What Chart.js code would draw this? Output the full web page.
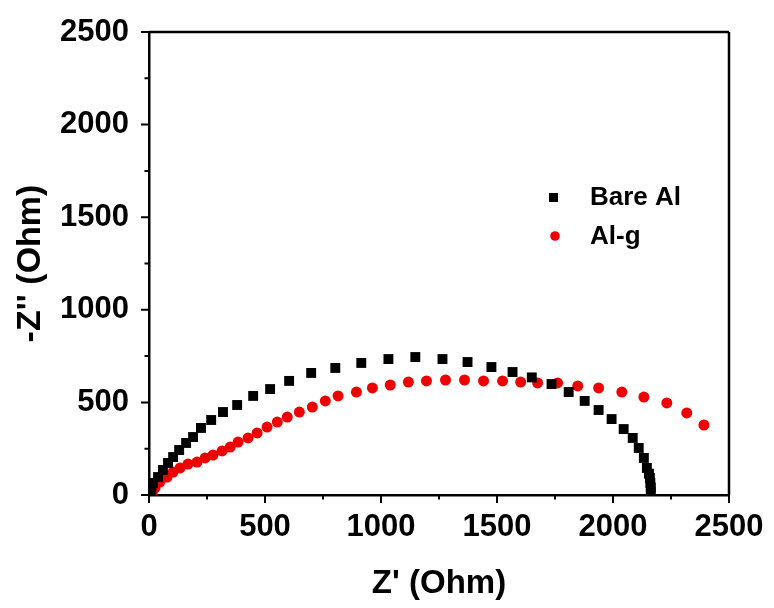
<!DOCTYPE html>
<html>
<head>
<meta charset="utf-8">
<script src="https://cdn.jsdelivr.net/npm/chart.js@4/dist/chart.umd.min.js"></script>
<style>
  html, body { margin: 0; padding: 0; background: #fff; }
  #wrap { width: 774px; height: 608px; }
</style>
</head>
<body>
<div id="wrap"><canvas id="c" width="774" height="608"></canvas></div>
<script>
// ---- data (Nyquist plot) ----
const seriesNames = ["Bare Al", "Al-g"];
const bareZre = [5, 10, 17, 39, 60, 82, 104, 130, 160, 190, 224, 268, 319, 380, 449, 522, 604, 699, 803, 915, 1032, 1148, 1265, 1373, 1476, 1567, 1650, 1735, 1809, 1878, 1938, 1994, 2046, 2085, 2111, 2133, 2146, 2155, 2159, 2161, 2163, 2163];
const bareZim = [10, 30, 65, 97, 135, 173, 205, 243, 281, 313, 362, 405, 448, 486, 535, 572, 616, 659, 686, 713, 734, 745, 734, 718, 691, 664, 635, 599, 556, 508, 459, 410, 356, 308, 254, 200, 146, 115, 92, 65, 40, 15];
const algZre = [4, 13, 26, 47, 78, 104, 134, 168, 207, 242, 276, 315, 350, 384, 427, 466, 509, 553, 596, 648, 704, 760, 815, 894, 963, 1040, 1118, 1196, 1278, 1360, 1442, 1524, 1602, 1675, 1761, 1848, 1938, 2038, 2133, 2232, 2318, 2392];
const algZim = [2, 11, 38, 70, 97, 124, 146, 167, 178, 200, 216, 238, 259, 286, 308, 335, 367, 394, 421, 448, 475, 508, 535, 556, 578, 594, 610, 616, 621, 621, 616, 616, 610, 605, 605, 589, 578, 556, 529, 497, 443, 378];
const xTicks = [0, 500, 1000, 1500, 2000, 2500];
const yTicks = [0, 500, 1000, 1500, 2000, 2500];
const xTitle = "Z' (Ohm)";
const yTitle = "-Z'' (Ohm)";

const FONT = "'Liberation Sans', Arial, sans-serif";
const RED = '#ee0000';

function pts(xs, ys) { return xs.map((x, i) => ({ x: x, y: ys[i] })); }

const boxAndTicks = {
  id: 'boxAndTicks',
  afterDraw(chart) {
    const { ctx, chartArea: a } = chart;
    const xs = chart.scales.x, ys = chart.scales.y;
    ctx.save();
    ctx.strokeStyle = '#000';
    ctx.lineWidth = 2.5;
    ctx.beginPath();
    ctx.moveTo(a.left, a.top); ctx.lineTo(a.right, a.top);
    ctx.moveTo(a.right, a.top); ctx.lineTo(a.right, a.bottom);
    ctx.stroke();
    ctx.lineWidth = 2;
    ctx.beginPath();
    for (let v = 0; v <= 2500; v += 250) {
      const major = v % 500 === 0;
      const len = major ? 8 : 4.5;
      const px = xs.getPixelForValue(v);
      ctx.moveTo(px, a.bottom); ctx.lineTo(px, a.bottom + len);
      const py = ys.getPixelForValue(v);
      ctx.moveTo(a.left, py); ctx.lineTo(a.left - len, py);
    }
    ctx.stroke();
    ctx.restore();
  }
};

const customLegend = {
  id: 'customLegend',
  afterDraw(chart) {
    const { ctx } = chart;
    ctx.save();
    ctx.font = 'bold 26px ' + FONT;
    ctx.textBaseline = 'middle';
    ctx.fillStyle = '#000';
    ctx.fillRect(549, 193, 9, 9);
    ctx.fillText(chart.data.datasets[0].label, 590, 198);
    ctx.fillStyle = RED;
    ctx.beginPath(); ctx.arc(555, 236, 4.8, 0, Math.PI * 2); ctx.fill();
    ctx.fillStyle = '#000';
    ctx.fillText(chart.data.datasets[1].label, 590, 237);
    ctx.restore();
  }
};

new Chart(document.getElementById('c'), {
  type: 'scatter',
  data: {
    datasets: [
      { label: seriesNames[0], data: pts(bareZre, bareZim), pointStyle: 'rect', pointRadius: 7, pointHoverRadius: 7,
        backgroundColor: '#000', borderColor: '#000', borderWidth: 0, showLine: false },
      { label: seriesNames[1], data: pts(algZre, algZim), pointStyle: 'circle', pointRadius: 5.5, pointHoverRadius: 5.5,
        backgroundColor: RED, borderColor: RED, borderWidth: 0, showLine: false }
    ]
  },
  options: {
    responsive: false,
    animation: false,
    events: [],
    layout: { padding: { left: 0, top: 32, right: 45, bottom: 0 } },
    plugins: { legend: { display: false }, tooltip: { enabled: false } },
    scales: {
      x: {
        type: 'linear', min: 0, max: 2500,
        afterBuildTicks(s) { s.ticks = xTicks.map(v => ({ value: v })); },
        afterFit(s) { s.height = 113; s.paddingLeft = 0; s.paddingRight = 0; },
        grid: { display: false, drawTicks: false },
        border: { display: true, color: '#000', width: 2.5 },
        ticks: { color: '#000', padding: 14, maxRotation: 0, autoSkip: false,
                 callback: v => String(v),
                 font: { family: FONT, size: 31, weight: 'bold' } },
        title: { display: true, text: xTitle, color: '#000', padding: { top: 0, bottom: 4 },
                 font: { family: FONT, size: 33, weight: 'bold' } }
      },
      y: {
        type: 'linear', min: 0, max: 2500,
        afterBuildTicks(s) { s.ticks = yTicks.map(v => ({ value: v })); },
        afterFit(s) { s.width = 149; s.paddingTop = 0; s.paddingBottom = 0; },
        grid: { display: false, drawTicks: false },
        border: { display: true, color: '#000', width: 2.5 },
        ticks: { color: '#000', padding: 20, autoSkip: false,
                 callback: v => String(v),
                 font: { family: FONT, size: 31, weight: 'bold' } },
        title: { display: true, text: yTitle, color: '#000', padding: { top: 10, bottom: 0 },
                 font: { family: FONT, size: 34, weight: 'bold' } }
      }
    }
  },
  plugins: [boxAndTicks, customLegend]
});
</script>
</body>
</html>
